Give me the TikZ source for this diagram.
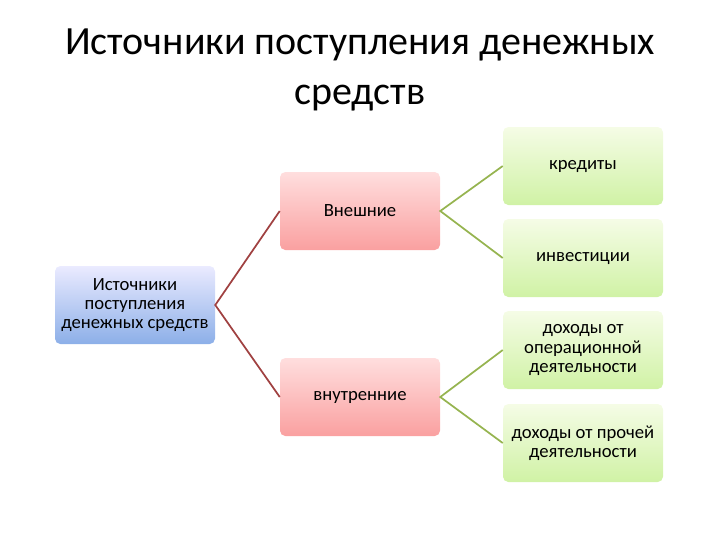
\documentclass[tikz,border=0pt]{standalone}
\usepackage{fontspec}
\setmainfont{Carlito}
\begin{document}
\begin{tikzpicture}[x=0.75pt,y=-0.75pt,
 box/.style={rounded corners=4pt,minimum width=120pt,minimum height=58.5pt,align=center,font=\fontsize{14}{14.5}\selectfont,inner sep=1pt},
 bl/.style={box,top color=blue!8!white,bottom color={rgb,255:red,140;green,175;blue,232}},
 rd/.style={box,top color={rgb,255:red,255;green,222;blue,222},bottom color={rgb,255:red,250;green,160;blue,160}},
 gr/.style={box,top color={rgb,255:red,245;green,252;blue,230},bottom color={rgb,255:red,208;green,242;blue,165}},
 rl/.style={draw={rgb,255:red,160;green,65;blue,65},line width=1.3pt},
 gl/.style={draw={rgb,255:red,150;green,180;blue,80},line width=1.3pt}]
\useasboundingbox (0,0) rectangle (720,540);
\node[font=\fontsize{30}{37.5}\selectfont,align=center] (t) at (360,70) {Источники поступления денежных\\средств};
\node[bl] (s) at (135,305) {Источники\\поступления\\денежных средств};
\node[rd] (e) at (360,211) {Внешние};
\node[rd] (i) at (360,397) {внутренние};
\node[gr] (k) at (583,166) {кредиты};
\node[gr] (v) at (583,258) {инвестиции};
\node[gr] (o) at (583,350) {доходы от\\операционной\\деятельности};
\node[gr] (p) at (583,443) {доходы от прочей\\деятельности};
\draw[rl] (e.west) -- (s.east) -- (i.west);
\draw[gl] (k.west) -- (e.east) -- (v.west);
\draw[gl] (o.west) -- (i.east) -- (p.west);
\end{tikzpicture}
\end{document}
